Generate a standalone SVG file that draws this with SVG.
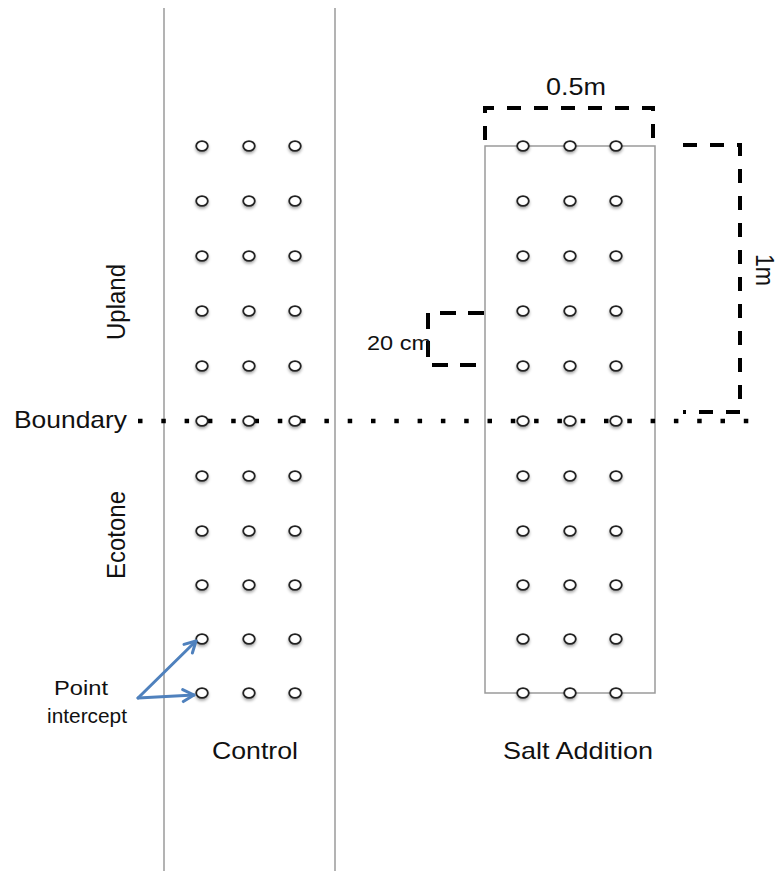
<svg xmlns="http://www.w3.org/2000/svg" width="782" height="871" viewBox="0 0 782 871">
  <style>
    .lane { stroke: #9a9a9a; stroke-width: 1.5; fill: none; }
    .plot { stroke: #9a9a9a; stroke-width: 1.5; fill: none; }
    .pt { fill: #ffffff; stroke: #222222; stroke-width: 1.8; }
    .dash { stroke: #000000; stroke-width: 4; fill: none; stroke-dasharray: 14 13; }
    .dots { stroke: #000000; stroke-width: 4.5; fill: none; stroke-dasharray: 4.5 18.8; }
    .lbl { font-family: "Liberation Sans", Arial, sans-serif; font-size: 24px; fill: #111111; }
    .small { font-size: 21px; }
    .arrow { stroke: #4f81bd; stroke-width: 3; fill: none; stroke-linecap: round; }
  </style>
  <defs>
    <filter id="shadow" x="-50%" y="-50%" width="200%" height="220%">
      <feDropShadow dx="0" dy="2" stdDeviation="1.4" flood-color="#000000" flood-opacity="0.35"/>
    </filter>
    <marker id="head" markerUnits="userSpaceOnUse" markerWidth="16" markerHeight="16" refX="13" refY="8" orient="auto">
      <path d="M2,2 L13,8 L2,14" stroke="#4f81bd" stroke-width="3" fill="none" stroke-linecap="round" stroke-linejoin="round"/>
    </marker>
    <g id="row">
      <ellipse cx="0" cy="0" rx="5.8" ry="4.9" class="pt"/>
      <ellipse cx="47" cy="0" rx="5.8" ry="4.9" class="pt"/>
      <ellipse cx="93" cy="0" rx="5.8" ry="4.9" class="pt"/>
    </g>
  </defs>

  <rect x="0" y="0" width="782" height="871" fill="#ffffff"/>

  <!-- lane borders of the control strip -->
  <g id="lanes">
    <line x1="164" y1="8" x2="164" y2="871" class="lane"/>
    <line x1="335" y1="8" x2="335" y2="871" class="lane"/>
  </g>

  <!-- salt addition plot -->
  <g id="salt-plot">
    <rect x="485" y="146" width="170" height="547" class="plot"/>
  </g>

  <!-- upland / ecotone boundary -->
  <g id="boundary-line">
    <line x1="138" y1="421" x2="752" y2="421" class="dots"/>
  </g>

  <!-- measurement brackets -->
  <g id="brackets">
    <path d="M485,140 V108 H653 V140" class="dash"/>
    <path d="M683,145 H740 V412 H683" class="dash"/>
    <path d="M484,313 H428 V365 H484" class="dash" style="stroke-dasharray:16 12"/>
  </g>

  <!-- point intercept grid, control -->
  <g id="control-points" filter="url(#shadow)">
    <use href="#row" x="202" y="146"/>
    <use href="#row" x="202" y="201"/>
    <use href="#row" x="202" y="256"/>
    <use href="#row" x="202" y="311"/>
    <use href="#row" x="202" y="366"/>
    <use href="#row" x="202" y="421"/>
    <use href="#row" x="202" y="476"/>
    <use href="#row" x="202" y="531"/>
    <use href="#row" x="202" y="585"/>
    <use href="#row" x="202" y="639"/>
    <use href="#row" x="202" y="693"/>
  </g>

  <!-- point intercept grid, salt addition -->
  <g id="salt-points" filter="url(#shadow)">
    <use href="#row" x="523" y="146"/>
    <use href="#row" x="523" y="201"/>
    <use href="#row" x="523" y="256"/>
    <use href="#row" x="523" y="311"/>
    <use href="#row" x="523" y="366"/>
    <use href="#row" x="523" y="421"/>
    <use href="#row" x="523" y="476"/>
    <use href="#row" x="523" y="531"/>
    <use href="#row" x="523" y="585"/>
    <use href="#row" x="523" y="639"/>
    <use href="#row" x="523" y="693"/>
  </g>

  <!-- connectors -->
  <g id="connectors">
    <line x1="138" y1="698" x2="196" y2="641" class="arrow" marker-end="url(#head)"/>
    <line x1="138" y1="698" x2="194" y2="695" class="arrow" marker-end="url(#head)"/>
  </g>

  <!-- labels -->
  <g id="labels">
    <text class="lbl" x="14" y="428" textLength="113" lengthAdjust="spacingAndGlyphs">Boundary</text>
    <text class="lbl" transform="translate(125,302) scale(1.1,1) rotate(-90)" text-anchor="middle">Upland</text>
    <text class="lbl" transform="translate(125,535) scale(1.1,1) rotate(-90)" text-anchor="middle">Ecotone</text>
    <text class="lbl" x="212" y="759" textLength="86" lengthAdjust="spacingAndGlyphs">Control</text>
    <text class="lbl" x="503" y="759" textLength="150" lengthAdjust="spacingAndGlyphs">Salt Addition</text>
    <text class="lbl" x="546" y="95" textLength="60" lengthAdjust="spacingAndGlyphs">0.5m</text>
    <text class="lbl" transform="translate(756,254) scale(1.1,1) rotate(90)" textLength="32" lengthAdjust="spacingAndGlyphs">1m</text>
    <text class="lbl small" x="367" y="350" textLength="64" lengthAdjust="spacingAndGlyphs">20 cm</text>
    <text class="lbl small" x="54" y="695" textLength="54" lengthAdjust="spacingAndGlyphs">Point</text>
    <text class="lbl small" x="47" y="723" textLength="80" lengthAdjust="spacingAndGlyphs">intercept</text>
  </g>
</svg>
